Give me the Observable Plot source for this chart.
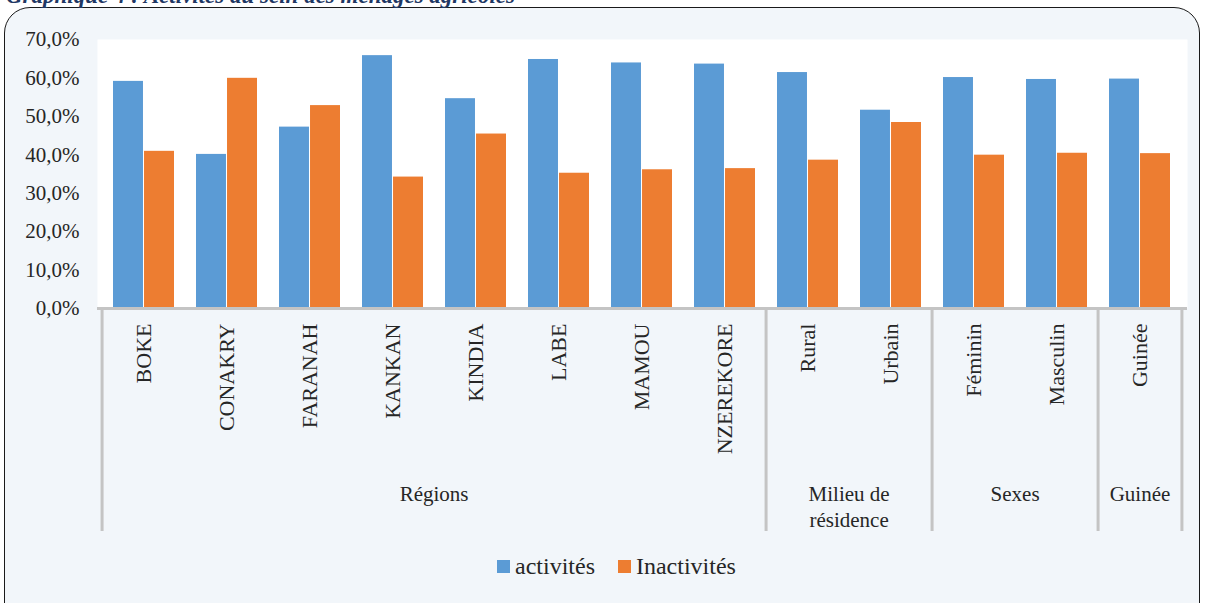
<!DOCTYPE html>
<html><head><meta charset="utf-8">
<script src="https://cdn.jsdelivr.net/npm/d3@7"></script>
<script src="https://cdn.jsdelivr.net/npm/@observablehq/plot@0.6"></script>
<style>
html,body{margin:0;padding:0;background:#fff;overflow:hidden}
#wrap{position:relative;width:1205px;height:603px;overflow:hidden;font-family:"Liberation Serif","DejaVu Serif",serif}
#box{position:absolute;left:4px;top:7px;width:1194px;height:660px;border:1.5px solid #1a1a1a;border-radius:26px;background:#f2f6fa}
#title{position:absolute;left:6px;top:-17px;font-family:"Liberation Serif","DejaVu Serif",serif;font-style:italic;font-weight:bold;font-size:23px;color:#1f3864;white-space:nowrap}
#chart{position:absolute;left:0;top:0}
#legend{position:absolute;top:553px;left:497px;display:flex;align-items:center;font-family:"Liberation Serif","DejaVu Serif",serif;font-size:24px;color:#262626;white-space:nowrap}
#legend .sw{display:inline-block;width:13px;height:13px;margin-right:5px}
#legend .item{display:flex;align-items:center;margin-right:23px}
svg text{font-family:"Liberation Serif","DejaVu Serif",serif}
</style></head>
<body>
<div id="wrap">
  <div id="box"></div>
  <div id="title">Graphique 4 : Activités au sein des ménages agricoles</div>
  <div id="chart"></div>
  <div id="legend"></div>
</div>
<script>
const categories = ["BOKE","CONAKRY","FARANAH","KANKAN","KINDIA","LABE","MAMOU","NZEREKORE","Rural","Urbain","Féminin","Masculin","Guinée"];
const activites   = [59.1, 40.1, 47.2, 65.8, 54.6, 64.8, 63.9, 63.6, 61.4, 51.6, 60.1, 59.6, 59.7];
const inactivites = [40.9, 59.9, 52.8, 34.2, 45.4, 35.2, 36.1, 36.4, 38.6, 48.4, 39.9, 40.4, 40.3];
const seriesNames = ["activités", "Inactivités"];
const seriesColors = ["#5b9bd5", "#ed7d31"];
const groupLabels = ["Régions", "Milieu de\nrésidence", "Sexes", "Guinée"];
const groupSizes = [8, 2, 2, 1];
const yTicks = [0, 10, 20, 30, 40, 50, 60, 70];

const W = 1205, H = 603, mL = 97, mR = 18, mT = 39, mB = 295;
const padInner = 0.26;
const step = (W - mL - mR) / categories.length;
const bw = step * (1 - padInner);
const pxPerUnit = (H - mB - mT) / 70;
const axisDepth = -(531 - (H - mB)) / pxPerUnit;

const rows = categories.map((c, i) => ({cat: c, act: activites[i], inact: inactivites[i]}));

let start = 0;
const firstCats = [], labelsEven = [], labelsOdd = [];
groupSizes.forEach((n, g) => {
  firstCats.push(categories[start]);
  const mid = categories[start + Math.floor(n / 2)];
  if (n % 2 === 0) labelsEven.push({cat: mid, label: groupLabels[g]});
  else labelsOdd.push({cat: mid, label: groupLabels[g]});
  start += n;
});
const lastCat = [categories[categories.length - 1]];

const fmt = d => d.toFixed(1).replace(".", ",") + "%";
const gray = "#c4c4c4";
const txt = "#262626";
const serif = "Liberation Serif, DejaVu Serif, serif";

const chart = Plot.plot({
  width: W, height: H,
  marginLeft: mL, marginRight: mR, marginTop: mT, marginBottom: mB,
  style: {background: "transparent", fontFamily: serif, fontSize: "21px", color: txt, overflow: "visible"},
  x: {domain: categories, paddingInner: padInner, paddingOuter: padInner / 2, align: 0.5, axis: null},
  y: {domain: [0, 70], axis: null},
  marks: [
    Plot.frame({fill: "white", stroke: "none"}),
    Plot.barY(rows, {x: "cat", y: "act", fill: seriesColors[0], insetRight: bw / 2}),
    Plot.barY(rows, {x: "cat", y: "inact", fill: seriesColors[1], insetLeft: bw / 2}),
    Plot.ruleX(firstCats, {x: d => d, y1: 0, y2: axisDepth, dx: -step / 2, stroke: gray, strokeWidth: 3}),
    Plot.ruleX(lastCat, {x: d => d, y1: 0, y2: axisDepth, dx: step / 2, stroke: gray, strokeWidth: 3}),
    Plot.ruleY([0], {stroke: gray, strokeWidth: 3}),
    Plot.axisY({ticks: yTicks, tickFormat: fmt, tickSize: 0, tickPadding: 18, label: null, fill: txt, fontFamily: serif}),
    Plot.text(categories, {x: d => d, frameAnchor: "bottom", rotate: -90, textAnchor: "end", lineAnchor: "middle", dy: 15, fontSize: 22, fill: txt, fontFamily: serif}),
    Plot.text(labelsEven, {x: "cat", text: "label", frameAnchor: "bottom", lineAnchor: "top", dy: 175, dx: -step / 2, fontSize: 21, lineHeight: 1.2, fill: txt, fontFamily: serif}),
    Plot.text(labelsOdd, {x: "cat", text: "label", frameAnchor: "bottom", lineAnchor: "top", dy: 175, fontSize: 21, lineHeight: 1.2, fill: txt, fontFamily: serif})
  ]
});
document.getElementById("chart").appendChild(chart);

const legend = document.getElementById("legend");
seriesNames.forEach((s, i) => {
  const item = document.createElement("span");
  item.className = "item";
  const sw = document.createElement("span");
  sw.className = "sw";
  sw.style.background = seriesColors[i];
  item.appendChild(sw);
  item.appendChild(document.createTextNode(s));
  legend.appendChild(item);
});
</script>
</body></html>
